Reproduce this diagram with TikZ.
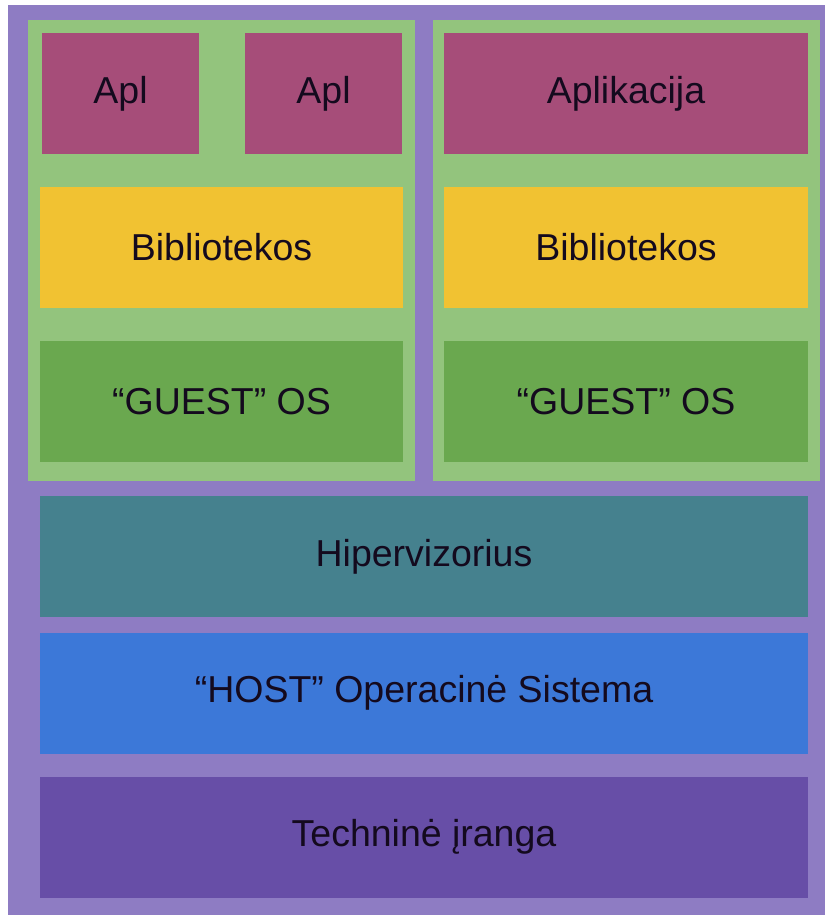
\documentclass[tikz,border=0pt]{standalone}
\usepackage{fontspec}
\setmainfont{Liberation Sans}
\usepackage{tikz}

\definecolor{outerc}{HTML}{8E7CC3}
\definecolor{vmc}{HTML}{93C47D}
\definecolor{aplc}{HTML}{A64D79}
\definecolor{libc}{HTML}{F1C232}
\definecolor{guestc}{HTML}{6AA84F}
\definecolor{hypc}{HTML}{45818E}
\definecolor{hostc}{HTML}{3C78D8}
\definecolor{hwc}{HTML}{674EA7}
\definecolor{txtc}{HTML}{140A1E}

\begin{document}
\begin{tikzpicture}[x=1pt,y=-1pt,
  layer/.style={inner sep=0pt,minimum height=121pt,text=txtc,
    font=\fontsize{37.5}{42}\selectfont},
  vm/.style={fill=vmc,inner sep=0pt,minimum width=387pt,minimum height=461pt}]
\useasboundingbox (0,0) rectangle (825,915);
\fill[white] (0,0) rectangle (825,915);
\fill[outerc] (8,5) rectangle (825,915);
\node[vm] (vma) at (221.5,250.5) {};
\node[vm] (vmb) at (626.5,250.5) {};
\node[layer,fill=aplc,minimum width=157pt] (apla) at (120.5,93.5) {Apl};
\node[layer,fill=aplc,minimum width=157pt] (aplb) at (323.5,93.5) {Apl};
\node[layer,fill=aplc,minimum width=364pt] (apl) at (626,93.5) {Aplikacija};
\node[layer,fill=libc,minimum width=363pt] (liba) at (221.5,247.5) {Bibliotekos};
\node[layer,fill=libc,minimum width=364pt] (libb) at (626,247.5) {Bibliotekos};
\node[layer,fill=guestc,minimum width=363pt] (guesta) at (221.5,401.5) {“GUEST” OS};
\node[layer,fill=guestc,minimum width=364pt] (guestb) at (626,401.5) {“GUEST” OS};
\node[layer,fill=hypc,minimum width=768pt] (hyp) at (424,556.5) {Hipervizorius};
\node[layer,fill=hostc,minimum width=768pt] (host) at (424,693) {“HOST” Operacinė Sistema};
\node[layer,fill=hwc,minimum width=768pt] (hw) at (424,837) {Techninė įranga};
\end{tikzpicture}
\end{document}
